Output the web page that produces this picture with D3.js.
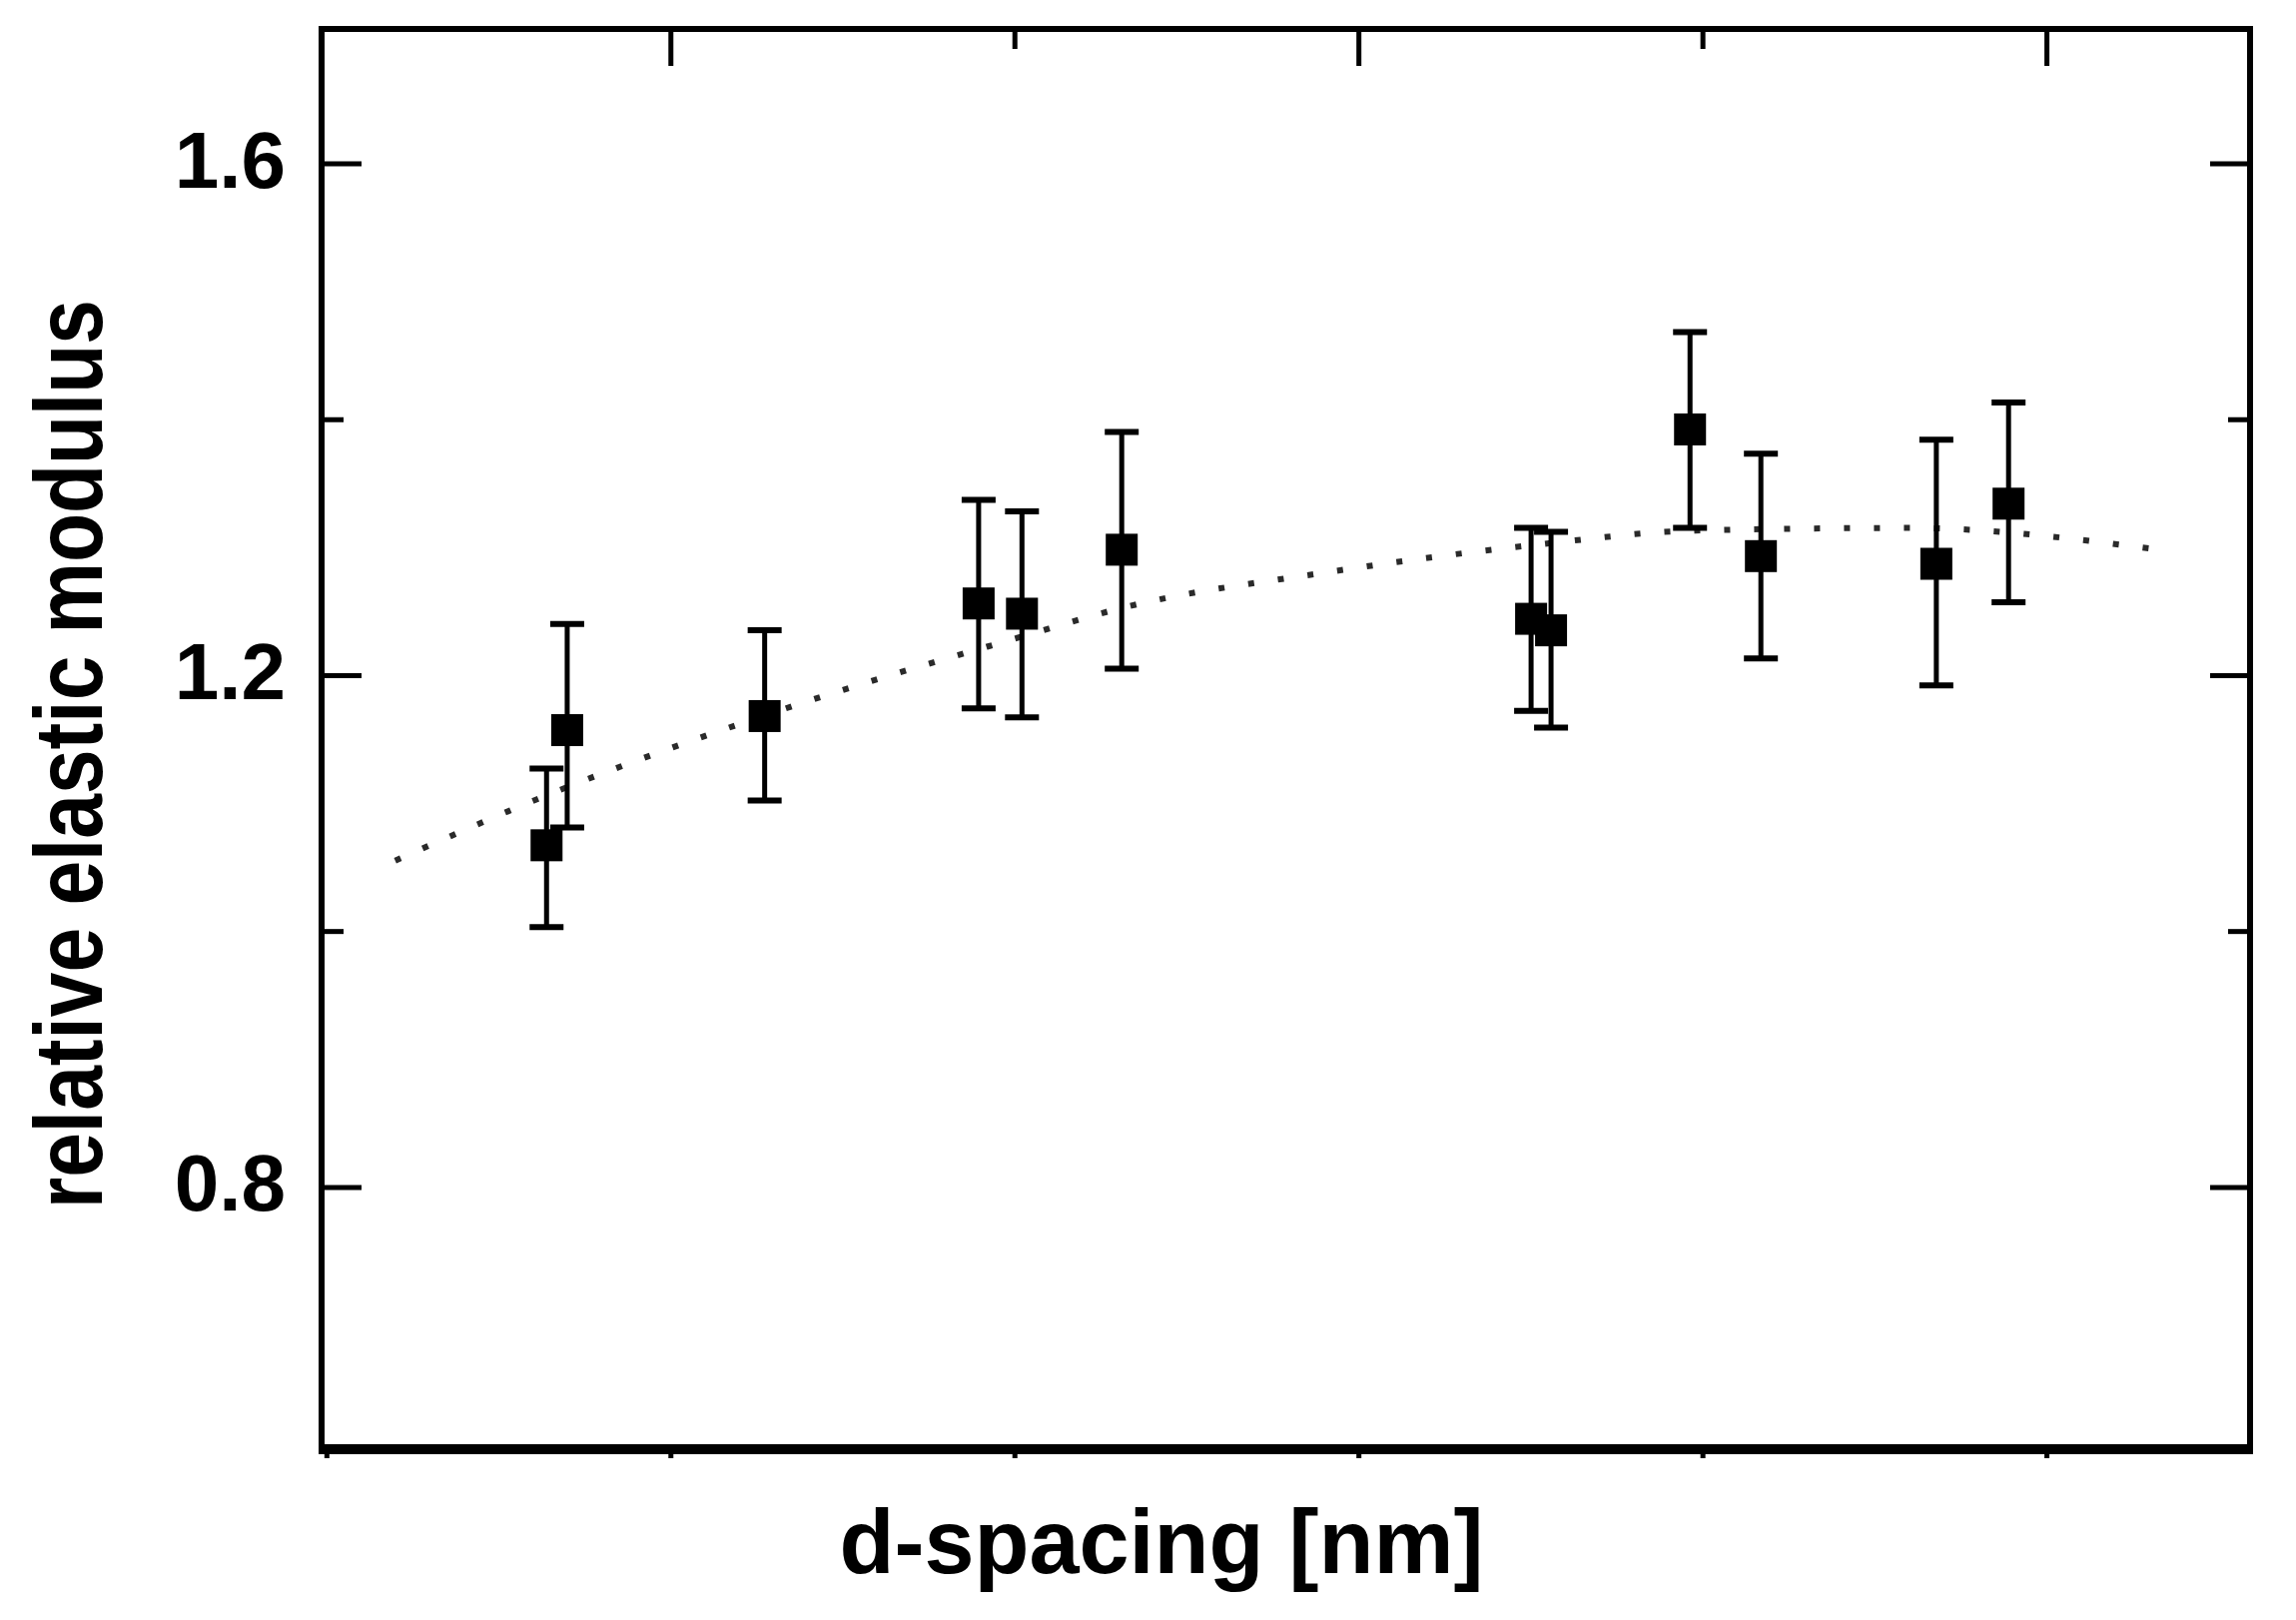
<!DOCTYPE html>
<script src="https://d3js.org/d3.v7.min.js"></script>
<body style="margin: 0; background: #fff;">
<svg id="chart" width="2299" height="1622"></svg>
</body>

<style>
  text { font-family: "Liberation Sans", Arial, sans-serif; fill: #000; }
  .domain { display: none; }
  .tick line { stroke: #000; }
</style>

<script>
// d-spacing (x axis has no numbers in the original) and relative moduli
var dSpacing = [2.820, 2.850, 3.137, 3.448, 3.511, 3.656, 4.251, 4.280, 4.482, 4.585, 4.840, 4.945];
var modulus  = [1.067, 1.157, 1.168, 1.256, 1.248, 1.298, 1.244, 1.235, 1.392, 1.293, 1.287, 1.334];
var errUp    = [1.127, 1.240, 1.235, 1.337, 1.328, 1.390, 1.315, 1.312, 1.468, 1.373, 1.384, 1.413];
var errDown  = [1.003, 1.081, 1.102, 1.174, 1.167, 1.205, 1.172, 1.159, 1.315, 1.213, 1.192, 1.257];

// dotted fit curve
var fitX = [2.60, 2.82, 3.14, 3.51, 3.66, 3.95, 4.26, 4.49, 4.80, 5.15];
var fitY = [1.055, 1.106, 1.169, 1.230, 1.253, 1.280, 1.302, 1.313, 1.315, 1.299];

var yMajor = [0.8, 1.2, 1.6];
var yMinor = [1.0, 1.4];
var xMajor = [3, 4, 5];
var xMinor = [3.5, 4.5];
var xBottom = [2.5, 3, 3.5, 4, 4.5, 5];

var svg = d3.select("#chart");
var W = 2299, H = 1622;
var margin = {left: 322, right: 46, top: 29, bottom: 171};

var x = d3.scaleLinear().domain([2.493, 5.296]).range([margin.left, W - margin.right]);
var y = d3.scaleLinear().domain([0.595, 1.705]).range([H - margin.bottom, margin.top]);

// inward ticks on all sides
function ticks(axis, vals, size, tx, ty) {
  svg.append("g")
     .attr("transform", "translate(" + tx + "," + ty + ")")
     .call(axis.tickValues(vals).tickSize(size).tickFormat(""))
     .selectAll(".tick line").attr("stroke-width", 5);
}
ticks(d3.axisLeft(y), yMajor, -40, margin.left, 0);
ticks(d3.axisLeft(y), yMinor, -22, margin.left, 0);
ticks(d3.axisRight(y), yMajor, -40, W - margin.right, 0);
ticks(d3.axisRight(y), yMinor, -22, W - margin.right, 0);
ticks(d3.axisTop(x), xMajor, -37, 0, margin.top);
ticks(d3.axisTop(x), xMinor, -20, 0, margin.top);
ticks(d3.axisBottom(x), xBottom, 9, 0, H - margin.bottom);

// y tick labels
svg.append("g").selectAll("text")
   .data(yMajor)
   .join("text")
     .attr("x", margin.left - 36)
     .attr("y", function(d) { return y(d); })
     .attr("dy", "0.3em")
     .attr("text-anchor", "end")
     .style("font-weight", "bold")
     .style("font-size", "80px")
     .text(function(d) { return d.toFixed(1); });

// frame
var x0 = margin.left, x1 = W - margin.right, y0 = margin.top, y1 = H - margin.bottom;
svg.append("path")
   .attr("d", "M" + x0 + "," + y1 + "V" + y0 + "H" + x1 + "V" + y1)
   .attr("fill", "none").attr("stroke", "#000").attr("stroke-width", 6);
svg.append("line")
   .attr("x1", x0 - 3).attr("x2", x1 + 3).attr("y1", y1).attr("y2", y1)
   .attr("stroke", "#000").attr("stroke-width", 10);

// dotted fit
var line = d3.line().curve(d3.curveMonotoneX).x(function(d) { return x(d[0]); }).y(function(d) { return y(d[1]); });
svg.append("path")
   .datum(d3.zip(fitX, fitY))
   .attr("d", line)
   .attr("fill", "none")
   .attr("stroke", "#2a2a2a")
   .attr("stroke-width", 6)
   .attr("stroke-dasharray", "6 24");

var pts = dSpacing.map(function(d, i) {
  return {x: d, y: modulus[i], hi: errUp[i], lo: errDown[i]};
});

var bars = svg.append("g").selectAll("g")
   .data(pts)
   .join("g");

bars.append("line")
   .attr("x1", function(d) { return x(d.x); })
   .attr("x2", function(d) { return x(d.x); })
   .attr("y1", function(d) { return y(d.hi); })
   .attr("y2", function(d) { return y(d.lo); })
   .attr("stroke", "#000").attr("stroke-width", 5);

bars.selectAll(".cap")
   .data(function(d) { return [{x: d.x, v: d.hi}, {x: d.x, v: d.lo}]; })
   .join("line")
     .attr("class", "cap")
     .attr("x1", function(d) { return x(d.x) - 17; })
     .attr("x2", function(d) { return x(d.x) + 17; })
     .attr("y1", function(d) { return y(d.v); })
     .attr("y2", function(d) { return y(d.v); })
     .attr("stroke", "#000").attr("stroke-width", 6);

bars.append("rect")
   .attr("x", function(d) { return x(d.x) - 16; })
   .attr("y", function(d) { return y(d.y) - 16; })
   .attr("width", 32)
   .attr("height", 32)
   .attr("fill", "#000");

// axis titles
svg.append("text")
   .attr("x", 1163)
   .attr("y", 1575)
   .attr("text-anchor", "middle")
   .style("font-weight", "bold")
   .style("font-size", "90px")
   .text("d-spacing [nm]");

svg.append("text")
   .attr("transform", "translate(102,755) rotate(-90)")
   .attr("text-anchor", "middle")
   .attr("textLength", 910)
   .attr("lengthAdjust", "spacingAndGlyphs")
   .style("font-weight", "bold")
   .style("font-size", "96px")
   .text("relative elastic modulus");
</script>
